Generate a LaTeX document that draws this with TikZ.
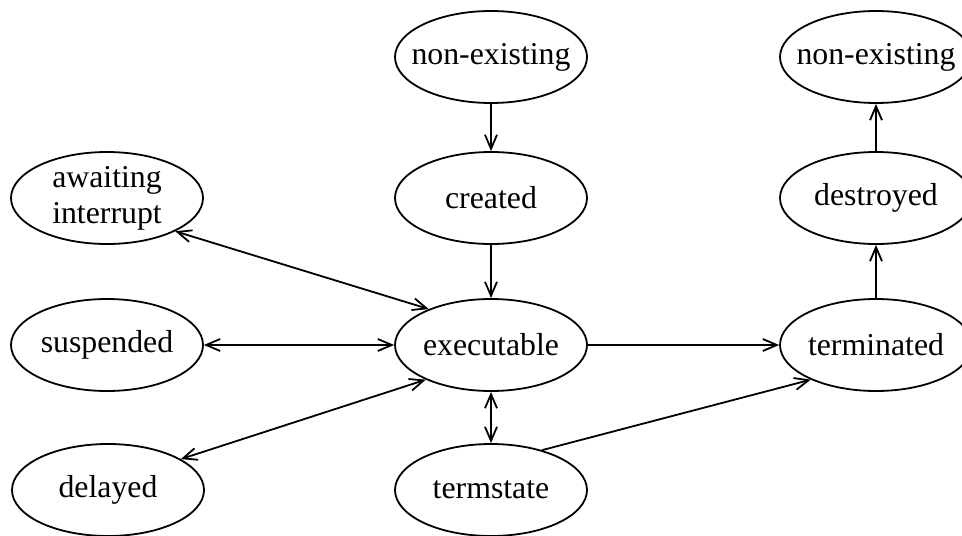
\documentclass[tikz,border=0pt]{standalone}
\usepackage{fontspec}
\setmainfont{Liberation Serif}
\usetikzlibrary{shapes.geometric,arrows.meta}
\newcommand{\zl}[1]{\makebox[0pt]{#1}}
\begin{document}
\begin{tikzpicture}[x=0.5pt,y=-0.5pt,
  state/.style={draw,ellipse,line width=0.9pt,minimum width=96pt,minimum height=46pt,inner sep=0pt,
    font=\fontsize{15.9}{18}\selectfont,align=center},
  conn/.style={line width=0.9pt,-{Straight Barb[length=7pt,width=6pt]}},
  bconn/.style={line width=0.9pt,{Straight Barb[length=7pt,width=6pt]}-{Straight Barb[length=7pt,width=6pt]}}]
\useasboundingbox (0,0) rectangle (962,535);
\node[state] (ne1) at (491,57) {\zl{non-existing}};
\node[state] (cr) at (491,198) {\zl{created}};
\node[state] (ex) at (491,345) {\zl{executable}};
\node[state] (ts) at (491,490) {\zl{termstate}};
\node[state] (aw) at (107,198) {\zl{awaiting}\\\zl{interrupt}};
\node[state] (su) at (107,345) {\zl{suspended}};
\node[state] (de) at (108,490) {\zl{delayed}};
\node[state] (ne2) at (876,57) {\zl{non-existing}};
\node[state] (ds) at (876,198) {\zl{destroyed}};
\node[state] (tm) at (876,345) {\zl{terminated}};
\draw[conn] (ne1) -- (cr);
\draw[conn] (cr) -- (ex);
\draw[bconn] (aw.-26) -- (ex.150);
\draw[bconn] (su) -- (ex);
\draw[bconn] (de.23) -- (ex.208);
\draw[bconn] (ex) -- (ts);
\draw[conn] (ex) -- (tm);
\draw[conn] (ts.38) -- (tm.208);
\draw[conn] (tm) -- (ds);
\draw[conn] (ds) -- (ne2);
\end{tikzpicture}
\end{document}
